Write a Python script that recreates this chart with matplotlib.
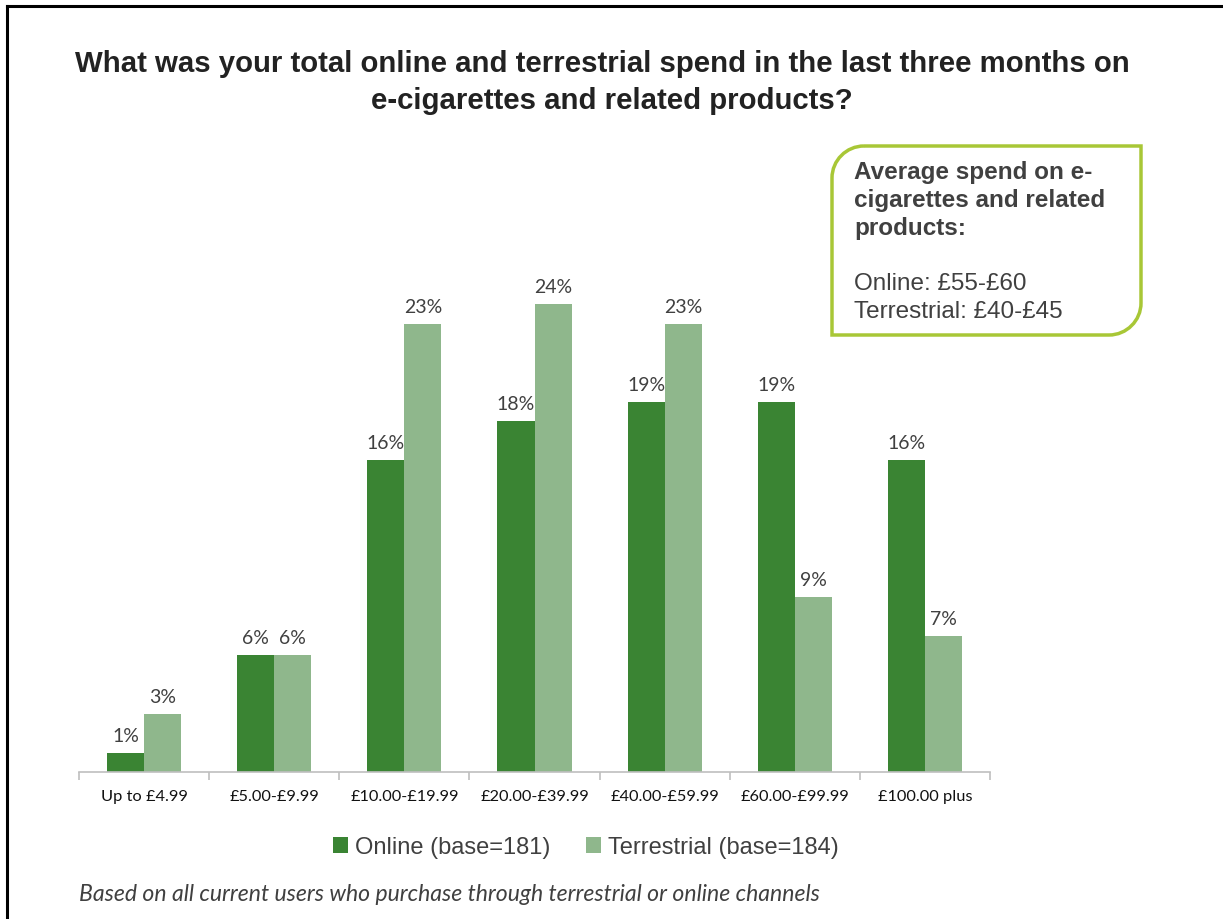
import matplotlib.pyplot as plt
import numpy as np
from matplotlib.path import Path
from matplotlib.patches import PathPatch
from matplotlib.lines import Line2D

categories = ['Up to £4.99', '£5.00-£9.99', '£10.00-£19.99', '£20.00-£39.99',
              '£40.00-£59.99', '£60.00-£99.99', '£100.00 plus']
online = [1, 6, 16, 18, 19, 19, 16]
terrestrial = [3, 6, 23, 24, 23, 9, 7]
series_names = ['Online (base=181)', 'Terrestrial (base=184)']
box_lines = ['Average spend on e-', 'cigarettes and related', 'products:',
             'Online: £55-£60', 'Terrestrial: £40-£45']

W, H = 1223, 920
dark_green = '#3A8433'
light_green = '#8FB78C'
txt = '#404040'

fig = plt.figure(figsize=(W / 100, H / 100), dpi=100)

# plot area in pixels: left 79, right 990, baseline 773
ymax = 26
px_per = 19.5
top = 773 - ymax * px_per
ax = fig.add_axes([79 / W, 1 - 773 / H, (990 - 79) / W, (773 - top) / H])

x = np.arange(len(categories))
w = 0.285
b1 = ax.bar(x - w / 2, online, w, color=dark_green, label=series_names[0])
b2 = ax.bar(x + w / 2, terrestrial, w, color=light_green, label=series_names[1])

for bars, vals in ((b1, online), (b2, terrestrial)):
    for r, v in zip(bars, vals):
        ax.text(r.get_x() + r.get_width() / 2, v + 0.45, f'{v}%', ha='center', va='bottom',
                fontsize=14, color=txt, family='Lato')

ax.set_xlim(-0.5, len(categories) - 0.5)
ax.set_ylim(0, ymax)
ax.set_yticks([])
for s in ('top', 'right', 'left'):
    ax.spines[s].set_visible(False)
ax.spines['bottom'].set_color('#BFBFBF')
ax.spines['bottom'].set_linewidth(1.2)
ax.set_xticks(np.arange(len(categories) + 1) - 0.5)
ax.set_xticklabels([])
ax.set_xticks(x, minor=True)
ax.set_xticklabels(categories, minor=True, fontsize=11.8, family='Lato', color='#111111')
ax.tick_params(axis='x', which='major', length=6, color='#BFBFBF', width=1.2)
ax.tick_params(axis='x', which='minor', length=0, pad=12)

fig.text(602 / W, 1 - 64 / H, 'What was your total online and terrestrial spend in the last three months on',
         ha='center', va='center', fontsize=21.2, fontweight='bold', color='#222222',
         family='Liberation Sans')
fig.text(0.5, 1 - 101 / H, 'e-cigarettes and related products?',
         ha='center', va='center', fontsize=21.2, fontweight='bold', color='#222222',
         family='Liberation Sans')

leg = fig.legend(handles=[b1, b2], loc='center', bbox_to_anchor=(586 / W, 1 - 848 / H),
                 ncol=2, frameon=False, handlelength=0.65, handleheight=0.65,
                 handletextpad=0.3, columnspacing=1.5,
                 prop={'family': 'Liberation Sans', 'size': 17})
for t in leg.get_texts():
    t.set_color(txt)

fig.text(79 / W, 1 - 895 / H,
         'Based on all current users who purchase through terrestrial or online channels',
         ha='left', va='center', fontsize=16.6, style='italic', color=txt, family='Lato')

# callout box with rounded top-left and bottom-right corners
x0, x1, y0, y1, r = 832, 1141, 147, 336, 32
k = 0.55
pts = [(x0 + r, y0), (x1, y0), (x1, y1 - r),
       (x1, y1 - r + k * r), (x1 - r + k * r, y1), (x1 - r, y1),
       (x0, y1), (x0, y0 + r),
       (x0, y0 + r - k * r), (x0 + r - k * r, y0), (x0 + r, y0)]
codes = [Path.MOVETO, Path.LINETO, Path.LINETO,
         Path.CURVE4, Path.CURVE4, Path.CURVE4,
         Path.LINETO, Path.LINETO,
         Path.CURVE4, Path.CURVE4, Path.CURVE4]
verts = [(px / W, 1 - py / H) for px, py in pts]
fig.patches.append(PathPatch(Path(verts, codes), transform=fig.transFigure,
                             facecolor='white', edgecolor='#A8C736', linewidth=2.5))
line_y = [172, 200, 228, 284, 312]
for i, (line, ly) in enumerate(zip(box_lines, line_y)):
    fig.text(854 / W, 1 - ly / H, line, ha='left', va='center', fontsize=17.5,
             fontweight='bold' if i < 3 else 'normal', color=txt, family='Liberation Sans')

# slide frame
fig.add_artist(Line2D([7 / W, 7 / W], [0, 1 - 7 / H], transform=fig.transFigure,
                      color='black', linewidth=2.2))
fig.add_artist(Line2D([7 / W, 1], [1 - 7 / H, 1 - 7 / H], transform=fig.transFigure,
                      color='black', linewidth=2.2))

fig.savefig('out.png', dpi=100)
